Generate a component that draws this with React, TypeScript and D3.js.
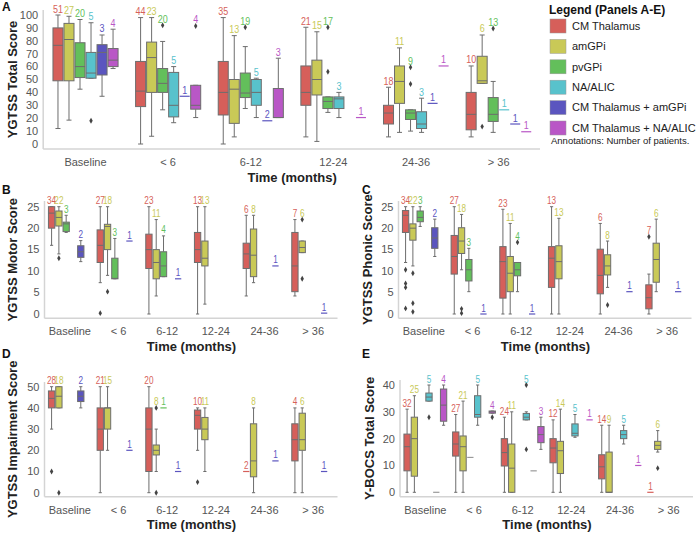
import React from "react";
import * as d3 from "d3";

const timeGroups = ["Baseline", "< 6", "6-12", "12-24", "24-36", "> 36"];
const targets = [
  "CM Thalamus",
  "amGPi",
  "pvGPi",
  "NA/ALIC",
  "CM Thalamus + amGPi",
  "CM Thalamus + NA/ALIC",
];
const targetColors = ["#d65f5a", "#c9c957", "#63bf5b", "#58c2cc", "#5b55bf", "#b957c6"];

// [time group, target, patients, lower whisker, q1, median, q3, upper whisker, outliers]
// short rows [time group, target, patients, value] are single-patient lines
type Row = (number | null | number[])[];

const totalScore: Row[] = [
  [0, 0, 51, 12, 49, 76.5, 90, 100],
  [0, 1, 27, 18.5, 49, 81, 93.5, 99],
  [0, 2, 20, 42.5, 51.5, 60, 78.5, 96.5],
  [0, 3, 5, 51, 51, 55, 71, 94, [18]],
  [0, 4, 3, 37, 53.5, 71, 77, 84.5],
  [0, 5, 4, 58.5, 60, 65, 74, 89],
  [1, 0, 44, 0, 29, 41, 64, 98],
  [1, 1, 23, 6, 40, 67, 79, 98],
  [1, 2, 20, 26.5, 40, 47, 58.5, 79.5, [92]],
  [1, 3, 5, 16.5, 21, 30, 55.5, 60],
  [1, 4, 1, 37],
  [1, 5, 4, 20.5, 27, 30, 45.5, 45.5, [91.5]],
  [2, 0, 35, 0, 22.5, 40, 64, 98],
  [2, 1, 13, 5.5, 16, 42.5, 50, 84],
  [2, 2, 19, 27.5, 36, 39.5, 55, 75.5, [90.5]],
  [2, 3, 5, 20.5, 30, 40, 50, 51],
  [2, 4, 2, 18],
  [2, 5, 3, 20.5, 20.5, 20.5, 43, 66.5],
  [3, 0, 21, 5.5, 30, 40, 60.5, 90.5],
  [3, 1, 15, 2, 38, 50, 65, 87],
  [3, 2, 17, 24.5, 27.5, 33, 36.5, 36.5, [56, 90.5]],
  [3, 3, 3, 20.5, 27.5, 35, 36.5, 40],
  [3, 5, 1, 20.5],
  [4, 0, 18, 5.5, 15.5, 24, 30, 44],
  [4, 1, 11, 9, 31.5, 48.5, 60.5, 74.5],
  [4, 2, 9, 10, 19, 24, 26.5, 26.5, [46.5, 59.5]],
  [4, 3, 3, 9, 12, 15.5, 25, 35.5],
  [4, 4, 1, 31.5],
  [4, 5, 1, 60.5],
  [5, 0, 10, 5.5, 11, 23, 40, 60.5],
  [5, 1, 6, 47, 47, 49, 68, 84.5, [13.5]],
  [5, 2, 13, 9, 17.5, 23, 36, 48.5, [89.5]],
  [5, 3, 1, 26.5],
  [5, 4, 1, 15.5],
  [5, 5, 1, 9.5],
];

const motorScore: Row[] = [
  [0, 0, 34, 16, 20, 23.5, 25, 25],
  [0, 1, 22, 14, 20.5, 22.5, 24, 25, [13]],
  [0, 2, 3, 19, 19.2, 21, 21.4, 23],
  [0, 4, 2, 12.2, 13.2, 14.5, 15.9, 17.1],
  [1, 0, 27, 7.3, 12, 16, 19.6, 25, [0.2]],
  [1, 1, 18, 9, 15, 20.4, 20.9, 25, [5.2]],
  [1, 2, 3, 8.2, 8.2, 8.3, 13, 17.6],
  [1, 4, 1, 17],
  [2, 0, 23, 0, 10.6, 15, 18.6, 25],
  [2, 1, 11, 4.2, 8.2, 12, 15, 22],
  [2, 2, 4, 8.7, 8.7, 11.2, 14.5, 18.2],
  [2, 4, 1, 8.2],
  [3, 0, 13, 0, 12, 15, 19, 25],
  [3, 1, 13, 2.3, 11.2, 13, 17, 25],
  [4, 0, 6, 4.2, 10.6, 14, 16.5, 23],
  [4, 1, 8, 7.3, 8.7, 13.7, 19.8, 23],
  [4, 4, 1, 11.2],
  [5, 0, 7, 4.2, 5.2, 11.2, 19, 22],
  [5, 1, 6, 14.3, 14.3, 15.5, 17, 17, [22, 8.2]],
  [5, 4, 1, 0.2],
];

const phonicScore: Row[] = [
  [0, 0, 34, 12, 19, 23, 24.1, 25, [10.3, 7.1, 6.2, 1.3]],
  [0, 1, 22, 11.2, 17.2, 20, 21, 25, [9.5, 2.5, 0.5]],
  [0, 2, 3, 20.4, 21.5, 22.5, 24, 25],
  [0, 4, 2, 13.4, 15.3, 17.7, 20.1, 22.1],
  [1, 0, 27, 0, 9.3, 13.4, 18.3, 25],
  [1, 1, 18, 10.3, 14.1, 17, 20.1, 23.2, [1.2, 0.2]],
  [1, 2, 3, 5.2, 7.7, 10.3, 12.7, 15.3],
  [1, 4, 1, 0],
  [2, 0, 23, 0, 3.7, 12.2, 15.7, 24.4],
  [2, 1, 11, 0, 5.2, 9.5, 13.4, 21.1],
  [2, 2, 4, 5.2, 8.9, 10.3, 12, 12, [16.7]],
  [2, 4, 1, 0],
  [3, 0, 13, 0, 6.2, 13, 15.7, 25],
  [3, 1, 13, 0, 8.2, 12.2, 15.9, 22.3],
  [4, 0, 6, 0, 4.7, 9, 15.1, 21.1],
  [4, 1, 8, 6.2, 9.1, 11.2, 13.8, 17, [2.1]],
  [4, 4, 1, 5.2],
  [5, 0, 7, 0, 1.2, 3.8, 6.8, 9.3, [18]],
  [5, 1, 6, 5.2, 7.4, 12.7, 16.5, 22.1],
  [5, 4, 1, 5.2],
];

const impairmentScore: Row[] = [
  [0, 0, 28, 30, 40, 44.5, 48, 50, [10]],
  [0, 1, 18, 40, 40, 45.5, 50, 50, [0]],
  [0, 4, 2, 40, 43, 45.5, 48, 50],
  [1, 0, 21, 0, 20, 30, 40, 50],
  [1, 1, 15, 20, 30, 40, 40, 50],
  [1, 4, 1, 20],
  [2, 0, 20, 0, 10, 30, 40, 50],
  [2, 1, 8, 10, 17.8, 20, 22.5, 30, [40, 0]],
  [2, 2, 1, 40],
  [2, 4, 1, 10],
  [3, 0, 10, 20, 30, 36.5, 39, 40, [5]],
  [3, 1, 11, 10, 25, 30, 35.5, 40],
  [4, 0, 2, 10],
  [4, 1, 8, 0, 7.5, 15, 32.5, 40],
  [4, 4, 1, 15],
  [5, 0, 4, 0, 15, 25, 32.5, 40],
  [5, 1, 6, 0, 20, 25, 37.5, 40],
  [5, 4, 1, 10],
];

const ybocsScore: Row[] = [
  [0, 0, 32, 0, 8, 17, 21.7, 31],
  [0, 1, 25, 0, 6, 20, 28, 36],
  [0, 3, 5, 34, 34, 35.5, 37, 40, [28]],
  [0, 4, null, 0],
  [0, 5, 4, 25, 26.5, 32.5, 38.5, 40],
  [1, 0, 27, 0, 13.5, 18, 22.5, 29],
  [1, 1, 21, 0, 8, 17, 21, 34],
  [1, 2, null, 13],
  [1, 3, 5, 25, 28, 29, 36, 40],
  [1, 5, 4, 29.5, 29.5, 30, 30.3, 30.3, [28]],
  [2, 0, 24, 0, 9.8, 14.8, 20, 28],
  [2, 1, 11, 0, 0, 9, 18, 30],
  [2, 3, 5, 27, 27, 28, 29.4, 30, [40, 16]],
  [2, 4, null, 8],
  [2, 5, 3, 16, 18.5, 21.5, 24.5, 28],
  [3, 0, 12, 0, 11, 16.5, 20, 27],
  [3, 1, 14, 0, 7, 15.5, 19, 31],
  [3, 3, 5, 20.5, 21, 22, 25.5, 29],
  [3, 5, 1, 27],
  [4, 0, 14, 0, 5, 9.5, 14, 25],
  [4, 1, 9, 0, 0, 0, 15, 25],
  [4, 3, 5, 18, 20, 21.5, 23, 25],
  [4, 5, 1, 10],
  [5, 0, 1, 0],
  [5, 1, 6, 15, 16, 17.5, 19, 23, [9]],
];

const lineGray = "#6d6d6d";
const axisGray = "#d4d4d4";
const tickGray = "#555";

type PanelSpec = {
  letter: string;
  lx: number;
  ly: number;
  title: string;
  titleX: number;
  x0: number;
  x1: number;
  yDomain: [number, number];
  yRange: [number, number];
  axisTop: number;
  axisBottom: number;
  ticks: number[];
  frac: number;
  rows: Row[];
  labelSize: number;
  tickY: number;
  xTitleY: number;
};

function Panel({ p }: { p: PanelSpec }) {
  const x = d3.scaleBand<string>().domain(timeGroups).range([p.x0, p.x1]).padding(0);
  const pad = (targets.length * (1 - p.frac)) / (2 * p.frac);
  const slot = d3
    .scaleBand<number>()
    .domain(d3.range(targets.length))
    .range([0, x.bandwidth()])
    .paddingInner(0)
    .paddingOuter(pad);
  const y = d3.scaleLinear().domain(p.yDomain).range(p.yRange);
  const bw = slot.bandwidth();
  const boxW = bw - 1;
  const diamond = d3.symbol().type(d3.symbolDiamond).size(10)() as string;
  const midY = (p.axisTop + p.axisBottom) / 2;

  // patient count, drawn a little condensed like the original annotations
  const countLabel = (n: number | null, cx: number, yy: number, color: string) =>
    n === null ? null : (
      <text
        transform={`translate(${cx},${yy}) scale(0.78,1)`}
        textAnchor="middle"
        fontSize={p.labelSize}
        fill={color}
      >
        {n}
      </text>
    );

  return (
    <g>
      <text x={p.lx} y={p.ly} fontSize={12} fontWeight="bold" fill="#111">
        {p.letter}
      </text>
      <text
        transform={`translate(${p.titleX},${midY}) rotate(-90)`}
        textAnchor="middle"
        fontSize={13}
        fontWeight="bold"
        fill="#222"
      >
        {p.title}
      </text>
      <line x1={p.x0 - 1} x2={p.x0 - 1} y1={p.axisTop} y2={p.axisBottom} stroke={axisGray} strokeWidth={1.5} />
      <line x1={p.x0 - 1} x2={p.x1} y1={p.axisBottom} y2={p.axisBottom} stroke={axisGray} strokeWidth={1.5} />
      {p.ticks.map((t) => (
        <text key={t} x={p.x0 - 6} y={y(t)} dy="0.35em" textAnchor="end" fontSize={11} fill={tickGray}>
          {t}
        </text>
      ))}
      {timeGroups.map((g) => (
        <text key={g} x={(x(g) as number) + x.bandwidth() / 2} y={p.tickY} textAnchor="middle" fontSize={11} fill={tickGray}>
          {g}
        </text>
      ))}
      <text x={(p.x0 + p.x1) / 2} y={p.xTitleY} textAnchor="middle" fontSize={13} fontWeight="bold" fill="#222">
        Time (months)
      </text>
      {p.rows.map((r, i) => {
        const g = r[0] as number;
        const t = r[1] as number;
        const n = r[2] as number | null;
        const color = targetColors[t];
        const cx = (x(timeGroups[g]) as number) + (slot(t) as number) + bw / 2;
        if (r.length === 4) {
          const v = r[3] as number;
          return (
            <g key={i}>
              <line
                x1={cx - boxW / 2}
                x2={cx + boxW / 2}
                y1={y(v)}
                y2={y(v)}
                stroke={n === null ? "#9a9a9a" : color}
                strokeWidth={1.2}
              />
              {countLabel(n, cx, y(v) - 2.5, color)}
            </g>
          );
        }
        const [lo, q1, med, q3, hi] = r.slice(3, 8) as number[];
        const out = (r[8] as number[]) || [];
        const top = Math.max(hi, ...out);
        return (
          <g key={i}>
            <line x1={cx} x2={cx} y1={y(q3)} y2={y(hi)} stroke={lineGray} />
            <line x1={cx} x2={cx} y1={y(q1)} y2={y(lo)} stroke={lineGray} />
            <line x1={cx - boxW / 4} x2={cx + boxW / 4} y1={y(hi)} y2={y(hi)} stroke={lineGray} />
            <line x1={cx - boxW / 4} x2={cx + boxW / 4} y1={y(lo)} y2={y(lo)} stroke={lineGray} />
            <rect
              x={cx - boxW / 2}
              y={y(q3)}
              width={boxW}
              height={Math.max(0.5, y(q1) - y(q3))}
              fill={color}
              stroke={lineGray}
              strokeWidth={1}
            />
            <line x1={cx - boxW / 2} x2={cx + boxW / 2} y1={y(med)} y2={y(med)} stroke={lineGray} />
            {out.map((o, j) => (
              <path key={j} d={diamond} transform={`translate(${cx},${y(o)})`} fill="#444" />
            ))}
            {countLabel(n, cx, y(top) - 2.5, color)}
          </g>
        );
      })}
    </g>
  );
}

const panels: PanelSpec[] = [
  {
    letter: "A", lx: 2, ly: 11, title: "YGTSS Total Score", titleX: 17,
    x0: 44.2, x1: 540, yDomain: [0, 100], yRange: [144, 15], axisTop: 10, axisBottom: 149,
    ticks: d3.range(0, 101, 10), frac: 0.8, rows: totalScore, labelSize: 11.5, tickY: 166, xTitleY: 182,
  },
  {
    letter: "B", lx: 2, ly: 194, title: "YGTSS Motor Score", titleX: 17,
    x0: 45.5, x1: 337.5, yDomain: [0, 25], yRange: [314, 206.7], axisTop: 201, axisBottom: 318.3,
    ticks: d3.range(0, 26, 5), frac: 0.9, rows: motorScore, labelSize: 10.5, tickY: 335, xTitleY: 351,
  },
  {
    letter: "C", lx: 362, ly: 194, title: "YGTSS Phonic Score", titleX: 372,
    x0: 399.5, x1: 691.5, yDomain: [0, 25], yRange: [314, 206.7], axisTop: 201, axisBottom: 318.3,
    ticks: d3.range(0, 26, 5), frac: 0.9, rows: phonicScore, labelSize: 10.5, tickY: 335, xTitleY: 351,
  },
  {
    letter: "D", lx: 2, ly: 358, title: "YGTSS Impairment Score", titleX: 17,
    x0: 45.5, x1: 337.5, yDomain: [0, 50], yRange: [492.7, 386.7], axisTop: 382, axisBottom: 496.7,
    ticks: d3.range(0, 51, 10), frac: 0.9, rows: impairmentScore, labelSize: 10.5, tickY: 514, xTitleY: 529,
  },
  {
    letter: "E", lx: 362, ly: 358, title: "Y-BOCS Total Score", titleX: 374,
    x0: 401, x1: 693, yDomain: [0, 40], yRange: [492.3, 385], axisTop: 380, axisBottom: 496.7,
    ticks: d3.range(0, 41, 10), frac: 0.9, rows: ybocsScore, labelSize: 10.5, tickY: 514, xTitleY: 529,
  },
];

function Legend() {
  const rowY = d3.scalePoint<string>().domain(targets).range([26, 128]);
  return (
    <g>
      <text x={549} y={14} fontSize={12} fontWeight="bold" fill="#111">
        Legend (Panels A-E)
      </text>
      {targets.map((t, i) => (
        <g key={t}>
          <rect x={550} y={(rowY(t) as number) - 7} width={16} height={14} fill={targetColors[i]} stroke="#999" strokeWidth={0.5} />
          <text x={572} y={rowY(t) as number} dy="0.35em" fontSize={11} fill="#222">
            {t}
          </text>
        </g>
      ))}
      <text x={551} y={144} fontSize={9.5} fill="#222">
        Annotations: Number of patients.
      </text>
    </g>
  );
}

export default function App() {
  return (
    <svg
      width={698}
      height={533}
      style={{ position: "absolute", left: 0, top: 0, background: "#fff" }}
      fontFamily="'Liberation Sans', Arial, Helvetica, sans-serif"
    >
      {panels.map((p) => (
        <Panel key={p.letter} p={p} />
      ))}
      <Legend />
    </svg>
  );
}
